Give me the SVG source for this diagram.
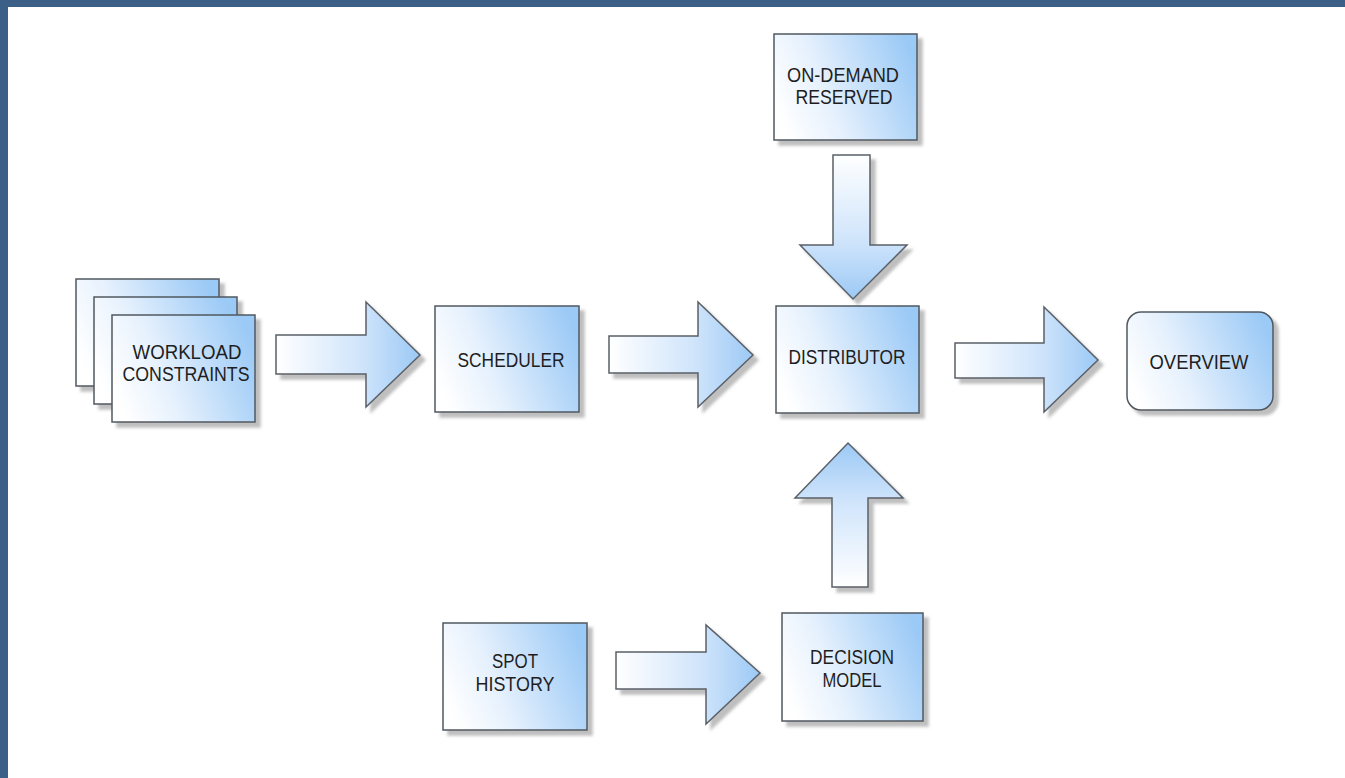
<svg xmlns="http://www.w3.org/2000/svg" width="1345" height="778" viewBox="0 0 1345 778">
<defs>
<linearGradient id="gBox" x1="0" y1="0.65" x2="1" y2="0.35">
<stop offset="0" stop-color="#ffffff"/>
<stop offset="0.35" stop-color="#e6f1fd"/>
<stop offset="1" stop-color="#9ccaf6"/>
</linearGradient>
<linearGradient id="gRight" x1="0" y1="0" x2="1" y2="0">
<stop offset="0" stop-color="#ffffff"/>
<stop offset="0.6" stop-color="#cfe4fb"/>
<stop offset="1" stop-color="#9cc9f5"/>
</linearGradient>
<linearGradient id="gDown" x1="0" y1="0" x2="0" y2="1">
<stop offset="0" stop-color="#ffffff"/>
<stop offset="0.6" stop-color="#cfe4fb"/>
<stop offset="1" stop-color="#9cc9f5"/>
</linearGradient>
<linearGradient id="gUp" x1="0" y1="1" x2="0" y2="0">
<stop offset="0" stop-color="#ffffff"/>
<stop offset="0.6" stop-color="#cfe4fb"/>
<stop offset="1" stop-color="#9cc9f5"/>
</linearGradient>
<filter id="sh" x="-10%" y="-10%" width="130%" height="130%">
<feGaussianBlur in="SourceAlpha" stdDeviation="1.8"/>
<feOffset dx="5" dy="5" result="b"/>
<feFlood flood-color="#8a8a8a" flood-opacity="0.55"/>
<feComposite in2="b" operator="in" result="s"/>
<feMerge><feMergeNode in="s"/><feMergeNode in="SourceGraphic"/></feMerge>
</filter>
</defs>
<style>
.box{fill:url(#gBox);stroke:#505860;stroke-width:1.5;filter:url(#sh)}
.ar{stroke:#5a6068;stroke-width:1.5;stroke-linejoin:miter;filter:url(#sh)}
.t{font-family:"Liberation Sans",Arial,sans-serif;font-size:20px;fill:#1e1e22;text-anchor:middle}
</style>
<rect x="0" y="0" width="1345" height="778" fill="#3c5f88"/>
<rect x="8" y="7" width="1337" height="771" fill="#ffffff"/>

<g id="connectors">
<polygon class="ar" fill="url(#gRight)" points="276,335 366,335 366,302 420,355 366,407 366,374 276,374"/>
<polygon class="ar" fill="url(#gRight)" points="609,336 698,336 698,302 753,355 698,407 698,373 609,373"/>
<polygon class="ar" fill="url(#gRight)" points="955,343 1044,343 1044,307 1098,360 1044,412 1044,378 955,378"/>
<polygon class="ar" fill="url(#gDown)" points="833,155 870,155 870,245 907,245 853,299 800,245 833,245"/>
<polygon class="ar" fill="url(#gUp)" points="848,443 903,498 868,498 868,587 832,587 832,498 795,498"/>
<polygon class="ar" fill="url(#gRight)" points="616,652 706,652 706,625 760,673 706,724 706,689 616,689"/>
</g>

<g id="workload">
<rect class="box" x="76" y="279" width="143" height="107"/>
<rect class="box" x="94" y="297" width="143" height="107"/>
<rect class="box" x="112" y="315" width="143" height="107"/>
<text class="t" x="187" y="359" textLength="109" lengthAdjust="spacingAndGlyphs">WORKLOAD</text>
<text class="t" x="186" y="381" textLength="127" lengthAdjust="spacingAndGlyphs">CONSTRAINTS</text>
</g>

<g id="scheduler">
<rect class="box" x="435" y="306" width="144" height="106"/>
<text class="t" x="511" y="367" textLength="107" lengthAdjust="spacingAndGlyphs">SCHEDULER</text>
</g>

<g id="distributor">
<rect class="box" x="776" y="306" width="143" height="107"/>
<text class="t" x="847" y="364" textLength="117" lengthAdjust="spacingAndGlyphs">DISTRIBUTOR</text>
</g>

<g id="overview">
<rect class="box" x="1127" y="312" width="146" height="98" rx="14" ry="14"/>
<text class="t" x="1199" y="369" textLength="99" lengthAdjust="spacingAndGlyphs">OVERVIEW</text>
</g>

<g id="ondemand">
<rect class="box" x="774" y="34" width="143" height="106"/>
<text class="t" x="843" y="82" textLength="112" lengthAdjust="spacingAndGlyphs">ON-DEMAND</text>
<text class="t" x="844" y="104" textLength="97" lengthAdjust="spacingAndGlyphs">RESERVED</text>
</g>

<g id="spothistory">
<rect class="box" x="443" y="623" width="144" height="107"/>
<text class="t" x="515" y="668" textLength="46" lengthAdjust="spacingAndGlyphs">SPOT</text>
<text class="t" x="515" y="691" textLength="79" lengthAdjust="spacingAndGlyphs">HISTORY</text>
</g>

<g id="decisionmodel">
<rect class="box" x="782" y="613" width="141" height="108"/>
<text class="t" x="852" y="664" textLength="84" lengthAdjust="spacingAndGlyphs">DECISION</text>
<text class="t" x="852" y="687" textLength="59" lengthAdjust="spacingAndGlyphs">MODEL</text>
</g>
</svg>
